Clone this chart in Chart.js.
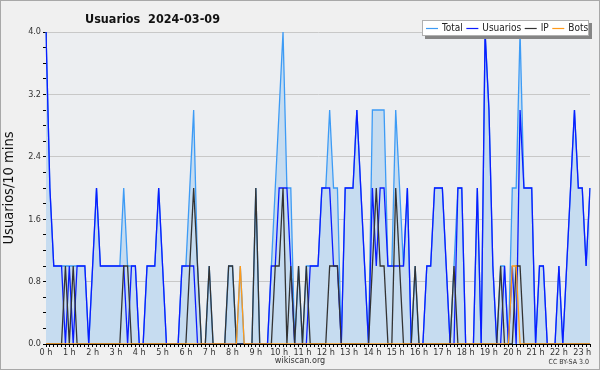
<!DOCTYPE html>
<html>
<head>
<meta charset="utf-8">
<script src="https://cdn.jsdelivr.net/npm/chart.js@4.4.1/dist/chart.umd.min.js"></script>
<style>
  html, body { margin: 0; padding: 0; background: #f0f0f0; }
</style>
</head>
<body>
<canvas id="chart" width="600" height="370"></canvas>
<script>
// 10 minute slots, 0:00 .. 23:20
const slots = [];
for (let i = 0; i < 141; i++) {
  slots.push(Math.floor(i / 6) + ":" + String((i % 6) * 10).padStart(2, "0"));
}

const total = [
  4, 2, 1, 1, 1, 1, 1, 1, 1, 1,
  1, 0, 1, 2, 1, 1, 1, 1, 1, 1,
  2, 1, 1, 1, 0, 0, 1, 1, 1, 2,
  1, 0, 0, 0, 0, 1, 1, 2, 3, 1,
  0, 0, 1, 0, 0, 0, 0, 1, 1, 0,
  1, 0, 0, 0, 2, 0, 0, 0, 1, 2,
  3, 4, 2, 2, 0, 1, 0, 1, 1, 1,
  1, 2, 2, 3, 2, 2, 0, 2, 2, 2,
  3, 2, 1, 0, 3, 3, 3, 3, 1, 1,
  3, 2, 1, 2, 0, 1, 0, 0, 1, 1,
  2, 2, 2, 1, 0, 1, 2, 2, 0, 0,
  0, 2, 0, 4, 3, 1, 0, 1, 1, 0,
  2, 2, 4, 2, 2, 2, 0, 1, 1, 0,
  0, 0, 1, 0, 1, 2, 3, 2, 2, 1,
  2
];
const usuarios = [
  4, 2, 1, 1, 1, 0, 1, 0, 1, 1,
  1, 0, 1, 2, 1, 1, 1, 1, 1, 1,
  1, 0, 1, 1, 0, 0, 1, 1, 1, 2,
  1, 0, 0, 0, 0, 1, 1, 1, 1, 0,
  0, 0, 0, 0, 0, 0, 0, 0, 0, 0,
  0, 0, 0, 0, 0, 0, 0, 0, 1, 1,
  2, 2, 2, 1, 0, 0, 0, 0, 1, 1,
  1, 2, 2, 2, 1, 1, 0, 2, 2, 2,
  3, 2, 1, 0, 2, 1, 2, 2, 1, 1,
  1, 1, 1, 2, 0, 0, 0, 0, 1, 1,
  2, 2, 2, 1, 0, 0, 2, 2, 0, 0,
  0, 2, 0, 4, 3, 1, 0, 0, 1, 0,
  1, 0, 3, 2, 2, 2, 0, 1, 1, 0,
  0, 0, 1, 0, 1, 2, 3, 2, 2, 1,
  2
];
const ip = [
  0, 0, 0, 0, 0, 1, 0, 1, 0, 0,
  0, 0, 0, 0, 0, 0, 0, 0, 0, 0,
  1, 1, 0, 0, 0, 0, 0, 0, 0, 0,
  0, 0, 0, 0, 0, 0, 0, 1, 2, 1,
  0, 0, 1, 0, 0, 0, 0, 1, 1, 0,
  0, 0, 0, 0, 2, 0, 0, 0, 0, 1,
  1, 2, 0, 1, 0, 1, 0, 1, 0, 0,
  0, 0, 0, 1, 1, 1, 0, 0, 0, 0,
  0, 0, 0, 0, 1, 2, 1, 1, 0, 0,
  2, 1, 0, 0, 0, 1, 0, 0, 0, 0,
  0, 0, 0, 0, 0, 1, 0, 0, 0, 0,
  0, 0, 0, 0, 0, 0, 0, 1, 0, 0,
  0, 1, 1, 0, 0, 0, 0, 0, 0, 0,
  0, 0, 0, 0, 0, 0, 0, 0, 0, 0,
  0
];
const bots = [
  0, 0, 0, 0, 0, 0, 0, 0, 0, 0,
  0, 0, 0, 0, 0, 0, 0, 0, 0, 0,
  0, 0, 0, 0, 0, 0, 0, 0, 0, 0,
  0, 0, 0, 0, 0, 0, 0, 0, 0, 0,
  0, 0, 0, 0, 0, 0, 0, 0, 0, 0,
  1, 0, 0, 0, 0, 0, 0, 0, 0, 0,
  0, 0, 0, 0, 0, 0, 0, 0, 0, 0,
  0, 0, 0, 0, 0, 0, 0, 0, 0, 0,
  0, 0, 0, 0, 0, 0, 0, 0, 0, 0,
  0, 0, 0, 0, 0, 0, 0, 0, 0, 0,
  0, 0, 0, 0, 0, 0, 0, 0, 0, 0,
  0, 0, 0, 0, 0, 0, 0, 0, 0, 0,
  1, 1, 0, 0, 0, 0, 0, 0, 0, 0,
  0, 0, 0, 0, 0, 0, 0, 0, 0, 0,
  0
];

const chartTitle = "Usuarios  2024-03-09";
const yTitle = "Usuarios/10 mins";
const yLabelStep = 0.8;

const isLabelTick = (v) => Math.abs(v / yLabelStep - Math.round(v / yLabelStep)) < 1e-6;
const FONT = '"DejaVu Sans Condensed", "DejaVu Sans", sans-serif';

// background, plot area, title, legend and footer
const decor = {
  id: "decor",
  beforeDraw(chart) {
    const { ctx, chartArea: a } = chart;
    ctx.save();
    ctx.fillStyle = "#f0f0f0";
    ctx.fillRect(0, 0, chart.width, chart.height);
    ctx.strokeStyle = "#a8a8a8";
    ctx.lineWidth = 1;
    ctx.strokeRect(0.5, 0.5, chart.width - 1, chart.height - 1);
    ctx.fillStyle = "#eceef1";
    ctx.fillRect(a.left, a.top, a.right - a.left, a.bottom - a.top);
    ctx.restore();
  },
  afterDraw(chart) {
    const { ctx } = chart;
    ctx.save();
    ctx.fillStyle = "#111";
    ctx.font = "bold 12.5px " + FONT;
    ctx.textBaseline = "alphabetic";
    ctx.fillText(chartTitle, 85, 23);

    // legend box
    const bx = 422, by = 20, bw = 167, bh = 16;
    ctx.fillStyle = "#858585";
    ctx.fillRect(bx + 3, by + 3, bw, bh);
    ctx.fillStyle = "#fff";
    ctx.fillRect(bx, by, bw, bh);
    ctx.strokeStyle = "#b0b0b0";
    ctx.strokeRect(bx + 0.5, by + 0.5, bw - 1, bh - 1);
    ctx.font = "10px " + FONT;
    ctx.textBaseline = "middle";
    let x = bx + 4;
    const ly = by + bh / 2 + 0.5;
    chart.data.datasets.slice().sort((p, q) => q.order - p.order).forEach((ds) => {
      ctx.strokeStyle = ds.borderColor;
      ctx.lineWidth = 1.2;
      ctx.beginPath();
      ctx.moveTo(x, ly);
      ctx.lineTo(x + 12, ly);
      ctx.stroke();
      ctx.fillStyle = "#222";
      ctx.fillText(ds.label, x + 16, ly);
      x += 16 + ctx.measureText(ds.label).width + 3.5;
    });

    // footer
    ctx.fillStyle = "#333";
    ctx.textAlign = "center";
    ctx.font = "9px " + FONT;
    ctx.fillText("wikiscan.org", 300, 361);
    ctx.textAlign = "right";
    ctx.font = "7px " + FONT;
    ctx.fillText("CC BY-SA 3.0", 589, 362);
    ctx.restore();
  }
};

new Chart(document.getElementById("chart"), {
  type: "line",
  data: {
    labels: slots,
    datasets: [
      {
        label: "Total",
        data: total,
        borderColor: "#3d9bf5",
        backgroundColor: "#c6dcf0",
        fill: "origin",
        order: 4,
      },
      {
        label: "Usuarios",
        data: usuarios,
        borderColor: "#0a1cff",
        order: 3,
      },
      {
        label: "IP",
        data: ip,
        borderColor: "#333333",
        order: 2,
      },
      {
        label: "Bots",
        data: bots,
        borderColor: "#ff9a1a",
        order: 1,
      },
    ],
  },
  options: {
    responsive: false,
    animation: false,
    elements: {
      line: { borderWidth: 1.3, tension: 0 },
      point: { radius: 0 },
    },
    layout: { padding: { top: 32, right: 10, left: 0, bottom: 0 } },
    plugins: {
      legend: { display: false },
      title: { display: false },
      tooltip: { enabled: false },
    },
    scales: {
      x: {
        ticks: {
          autoSkip: false,
          maxRotation: 0,
          padding: 0,
          color: "#333",
          font: { size: 9, family: FONT },
          callback: (v, i) => (i % 6 === 0 ? i / 6 + " h" : ""),
        },
        grid: { drawOnChartArea: false, tickLength: 3, tickColor: "#000" },
        border: { color: "#000", width: 1 },
        afterFit: (s) => { s.height = 26; },
      },
      y: {
        min: 0,
        max: 4,
        ticks: {
          stepSize: 0.2,
          padding: 2,
          color: "#333",
          font: { size: 9, family: FONT },
          callback: (v) => (isLabelTick(v) ? v.toFixed(1) : ""),
        },
        grid: {
          color: (c) => (c.tick && isLabelTick(c.tick.value) ? "#c8c8c8" : "rgba(0,0,0,0)"),
          tickColor: "#000",
          tickLength: 3,
        },
        border: { color: "#000", width: 1 },
        title: {
          display: true,
          text: yTitle,
          color: "#111",
          font: { size: 14.5, family: FONT },
          padding: { top: 1, bottom: 0 },
        },
        afterFit: (s) => { s.width = 46; },
      },
    },
  },
  plugins: [decor],
});
</script>
</body>
</html>
